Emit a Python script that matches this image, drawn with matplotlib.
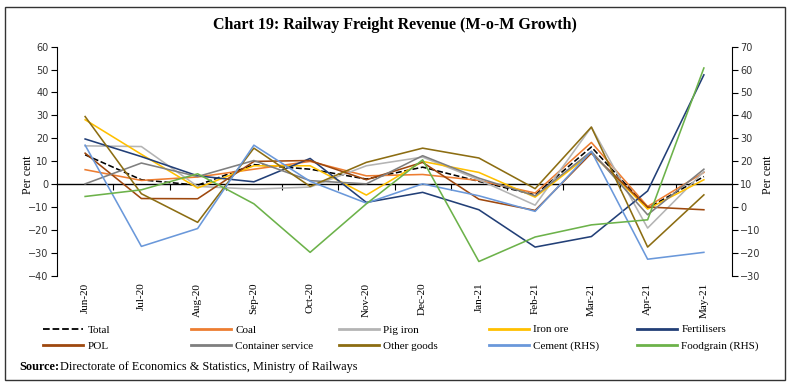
"""Railway freight revenue, month-on-month growth chart."""
import matplotlib
matplotlib.use("Agg")
import matplotlib.pyplot as plt
from matplotlib.lines import Line2D
from matplotlib.patches import Rectangle

months = ["Jun-20", "Jul-20", "Aug-20", "Sep-20", "Oct-20", "Nov-20",
          "Dec-20", "Jan-21", "Feb-21", "Mar-21", "Apr-21", "May-21"]

# left hand scale
total = [12.8, 1.9, -0.5, 8.5, 6.5, 2.2, 7.4, 1.2, -4.7, 16.2, -10.5, 3.3]
coal = [6.3, 1.6, 3.1, 6.5, 9.9, 3.6, 4.2, 1.6, -3.9, 18.2, -9.8, 5.1]
pig_iron = [16.7, 16.4, -1.0, -2.2, -1.3, 8.0, 11.8, 1.9, -9.2, 24.9, -19.2, 5.5]
iron_ore = [28.1, 13.0, -1.7, 8.0, 8.0, -4.8, 9.9, 5.1, -5.7, 13.5, -10.9, 1.9]
fertilisers = [19.7, 12.0, 3.6, 1.0, 11.2, -8.0, -3.6, -11.2, -27.5, -22.9, -3.0, 47.7]
pol = [13.5, -6.3, -6.4, 9.9, 10.3, 1.9, 9.5, -6.6, -11.5, 13.5, -10.0, -11.2]
container = [0.1, 9.2, 3.3, 10.3, 1.5, 0.1, 12.4, 2.6, -5.1, 14.3, -13.4, 6.5]
other_goods = [29.5, -4.2, -16.7, 15.7, -1.0, 9.5, 15.7, 11.4, -2.0, 24.9, -27.5, -4.7]
# right hand scale
cement = [27.0, -17.2, -9.4, 27.0, 11.2, 1.7, 10.1, 4.9, -1.9, 24.3, -22.8, -19.8]
foodgrain = [4.6, 7.5, 14.5, 1.4, -19.8, 1.4, 20.6, -23.8, -13.1, -7.8, -5.6, 60.7]

left_ticks = list(range(-40, 61, 10))
right_ticks = list(range(-30, 71, 10))

SERIF = ["Liberation Serif", "DejaVu Serif"]
plt.rcParams["font.family"] = ["DejaVu Sans"]

fig = plt.figure(figsize=(7.89, 3.87), dpi=100)
ax = fig.add_axes([57 / 789, 1 - 275.7 / 387, 675 / 789, 229 / 387])
ax2 = ax.twinx()

x = list(range(len(months)))
left_series = [
    ("Total", total, "black", "--"),
    ("Coal", coal, "#ED7D31", "-"),
    ("Pig iron", pig_iron, "#B4B4B4", "-"),
    ("Iron ore", iron_ore, "#FFC000", "-"),
    ("Fertilisers", fertilisers, "#223F77", "-"),
    ("POL", pol, "#9E480E", "-"),
    ("Container service", container, "#7F7F7F", "-"),
    ("Other goods", other_goods, "#8C6D12", "-"),
]
right_series = [
    ("Cement (RHS)", cement, "#6A98DA", "-"),
    ("Foodgrain (RHS)", foodgrain, "#6CB24A", "-"),
]

handles = {}
for name, vals, col, ls in left_series:
    handles[name], = ax.plot(x, vals, color=col, ls=ls, lw=1.15, label=name)
for name, vals, col, ls in right_series:
    handles[name], = ax2.plot(x, vals, color=col, ls=ls, lw=1.15, label=name)

ax.set_xlim(-0.5, len(months) - 0.5)
ax.set_ylim(left_ticks[0], left_ticks[-1])
ax2.set_ylim(right_ticks[0], right_ticks[-1])
ax.set_yticks(left_ticks)
ax2.set_yticks(right_ticks)

for a in (ax, ax2):
    a.spines["top"].set_visible(False)
    a.spines["bottom"].set_visible(False)
    a.tick_params(axis="y", labelsize=7, colors="black", length=4, width=0.8, pad=2,
                  labelcolor="#333333")
ax.spines["right"].set_visible(False)
ax2.spines["left"].set_visible(False)

# category labels at the bottom
ax.set_xticks(x)
ax.set_xticklabels(months, rotation=90, fontsize=8, family=SERIF)
ax.tick_params(axis="x", length=0, pad=5)

# zero line with category boundary ticks
zero_axis = ax.secondary_xaxis(40 / 100)
zero_axis.set_xticks([i + 0.5 for i in x[:-1]])
zero_axis.set_xticklabels([])
zero_axis.tick_params(axis="x", direction="out", length=4, width=0.8)
zero_axis.spines["bottom"].set_linewidth(1.0)

ax.set_ylabel("Per cent", family=SERIF, fontsize=8.5)
ax2.set_ylabel("Per cent", family=SERIF, fontsize=8.5)
ax.yaxis.set_label_coords(-0.034, 0.44)
ax2.yaxis.set_label_coords(1.045, 0.44)

fig.text(0.5, 1 - 25 / 387, "Chart 19: Railway Freight Revenue (M-o-M Growth)",
         ha="center", va="center", fontsize=11.5, fontweight="bold", family=SERIF)

# legend: five columns of two entries
columns = [("Total", "POL"), ("Coal", "Container service"),
           ("Pig iron", "Other goods"), ("Iron ore", "Cement (RHS)"),
           ("Fertilisers", "Foodgrain (RHS)")]
col_x = [43, 191, 339, 489, 637]
for (a_name, b_name), cx in zip(columns, col_x):
    hs = []
    for n in (a_name, b_name):
        h = handles[n]
        hs.append(Line2D([], [], color=h.get_color(), ls=h.get_linestyle(), lw=2.0
                         if h.get_linestyle() == "-" else 1.3))
    fig.legend(hs, [a_name, b_name], loc="center left",
               bbox_to_anchor=(cx / 789, 1 - 338 / 387), frameon=False,
               prop={"family": SERIF, "size": 8}, handlelength=3.6,
               handletextpad=0.4, labelspacing=0.62, borderpad=0, borderaxespad=0)

fig.text(19 / 789, 1 - 367 / 387, "Source:", fontweight="bold", fontsize=8.8,
         family=SERIF, va="center")
fig.text(60 / 789, 1 - 367 / 387, "Directorate of Economics & Statistics, Ministry of Railways",
         fontsize=8.8, family=SERIF, va="center")

fig.patches.append(Rectangle((5 / 789, 1 - 380 / 387), 780 / 789, 373 / 387,
                             transform=fig.transFigure, fill=False, lw=1.0,
                             edgecolor="#333333"))

fig.savefig("out.png", dpi=100)
